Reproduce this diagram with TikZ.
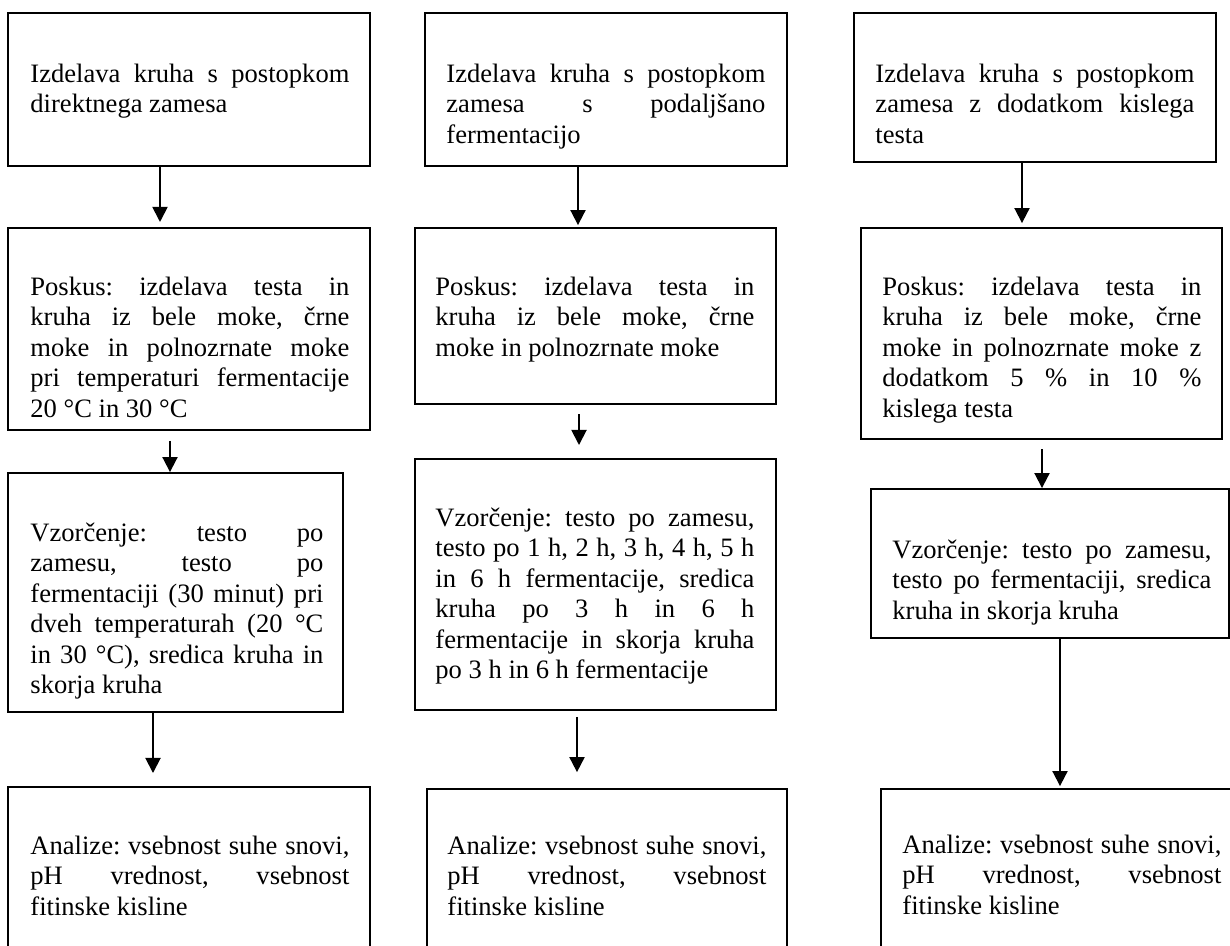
\documentclass[tikz,border=0pt]{standalone}
\usepackage{fontspec}
\setmainfont{Liberation Serif}
\usetikzlibrary{arrows.meta,fit}
\frenchspacing
\newlength\tw
\setlength\tw{144.1pt}
\newcommand\jline[1]{\hbox to\tw{#1}}
\newcommand\eline[1]{\hbox to\tw{#1\hfil}}
\tikzset{
  box/.style={draw=black, line width=0.85pt, inner sep=0pt},
  txt/.style={anchor=base west, inner sep=0pt, font=\fontsize{12pt}{13.8pt}\selectfont},
  arr/.style={draw=black, line width=0.85pt, -{Triangle[length=6.8pt,width=6.8pt]}}
}
\begin{document}
\begin{tikzpicture}[x=0.4517pt, y=-0.4517pt]
\useasboundingbox (0,0) rectangle (1230,945);
\clip (0,0) rectangle (1230,945);
\fill[white] (0,0) rectangle (1230,945);

% ---------- boxes ----------
\node[box, fit={(8,13) (370,166)}] (a1) {};
\node[box, fit={(8,228) (370,430)}] (a2) {};
\node[box, fit={(8,473) (343,712)}] (a3) {};
\node[box, fit={(8,787) (370,1000)}] (a4) {};

\node[box, fit={(425,13) (787,166)}] (b1) {};
\node[box, fit={(415,228) (776,404)}] (b2) {};
\node[box, fit={(415,459) (776,710)}] (b3) {};
\node[box, fit={(427,789) (787,1000)}] (b4) {};

\node[box, fit={(854,13) (1216,162)}] (c1) {};
\node[box, fit={(861,228) (1222,439)}] (c2) {};
\node[box, fit={(871,489) (1229,638)}] (c3) {};
\node[box, fit={(881,789) (1243,1000)}] (c4) {};

% ---------- texts ----------
\node[txt] (ta1) at (30,82) {\vtop{%
\jline{Izdelava kruha s postopkom}%
\eline{direktnega zamesa}}};
\node[txt] (ta2) at (30,295) {\vtop{%
\jline{Poskus: izdelava testa in}%
\jline{kruha iz bele moke, črne}%
\jline{moke in polnozrnate moke}%
\jline{pri temperaturi fermentacije}%
\eline{20 °C in 30 °C}}};
\node[txt] (ta3) at (30,541) {\tw=132.35pt\vtop{%
\jline{Vzorčenje: testo po}%
\jline{zamesu, testo po}%
\jline{fermentaciji (30 minut) pri}%
\jline{dveh temperaturah (20 °C}%
\jline{in 30 °C), sredica kruha in}%
\eline{skorja kruha}}};
\node[txt] (ta4) at (30,854) {\vtop{%
\jline{Analize: vsebnost suhe snovi,}%
\jline{pH vrednost, vsebnost}%
\eline{fitinske kisline}}};

\node[txt] (tb1) at (446,82) {\vtop{%
\jline{Izdelava kruha s postopkom}%
\jline{zamesa s podaljšano}%
\eline{fermentacijo}}};
\node[txt] (tb2) at (435,295) {\vtop{%
\jline{Poskus: izdelava testa in}%
\jline{kruha iz bele moke, črne}%
\eline{moke in polnozrnate moke}}};
\node[txt] (tb3) at (435,526) {\vtop{%
\jline{Vzorčenje: testo po zamesu,}%
\jline{testo po 1 h, 2 h, 3 h, 4 h, 5 h}%
\jline{in 6 h fermentacije, sredica}%
\jline{kruha po 3 h in 6 h}%
\jline{fermentacije in skorja kruha}%
\eline{po 3 h in 6 h fermentacije}}};
\node[txt] (tb4) at (447,854) {\vtop{%
\jline{Analize: vsebnost suhe snovi,}%
\jline{pH vrednost, vsebnost}%
\eline{fitinske kisline}}};

\node[txt] (tc1) at (875,82) {\vtop{%
\jline{Izdelava kruha s postopkom}%
\jline{zamesa z dodatkom kislega}%
\eline{testa}}};
\node[txt] (tc2) at (882,295) {\vtop{%
\jline{Poskus: izdelava testa in}%
\jline{kruha iz bele moke, črne}%
\jline{moke in polnozrnate moke z}%
\jline{dodatkom 5 \% in 10 \%}%
\eline{kislega testa}}};
\node[txt] (tc3) at (892,558) {\vtop{%
\jline{Vzorčenje: testo po zamesu,}%
\jline{testo po fermentaciji, sredica}%
\eline{kruha in skorja kruha}}};
\node[txt] (tc4) at (902,853) {\vtop{%
\jline{Analize: vsebnost suhe snovi,}%
\jline{pH vrednost, vsebnost}%
\eline{fitinske kisline}}};

% ---------- arrows ----------
\coordinate (xa1) at (160,0);
\coordinate (xa2) at (170,0);
\coordinate (xa3) at (153,0);
\coordinate (xb1) at (578,0);
\coordinate (xb2) at (579,0);
\coordinate (xb3) at (577,0);
\coordinate (xc1) at (1022,0);
\coordinate (xc2) at (1042,0);
\coordinate (xc3) at (1060,0);

\draw[arr, shorten >=2.3pt] (a1.south -| xa1) -- (a2.north -| xa1);
\draw[arr, shorten <=4.5pt] (a2.south -| xa2) -- (a3.north -| xa2);
\draw[arr, shorten >=5.9pt] (a3.south -| xa3) -- (a4.north -| xa3);

\draw[arr, shorten >=0.9pt] (b1.south -| xb1) -- (b2.north -| xb1);
\draw[arr, shorten <=4.1pt, shorten >=5.9pt] (b2.south -| xb2) -- (b3.north -| xb2);
\draw[arr, shorten <=2.7pt, shorten >=7.2pt] (b3.south -| xb3) -- (b4.north -| xb3);

\draw[arr, shorten >=1.8pt] (c1.south -| xc1) -- (c2.north -| xc1);
\draw[arr, shorten <=4.1pt] (c2.south -| xc2) -- (c3.north -| xc2);
\draw[arr, shorten >=0.9pt] (c3.south -| xc3) -- (c4.north -| xc3);
\end{tikzpicture}
\end{document}
